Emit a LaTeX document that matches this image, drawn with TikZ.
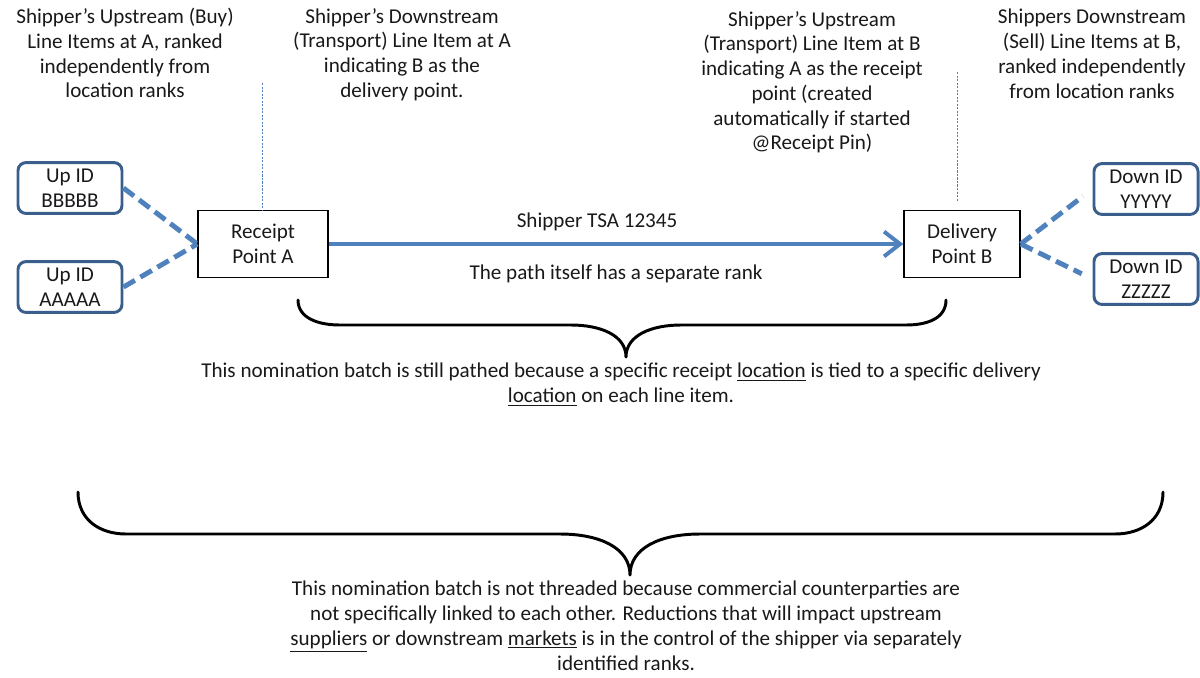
\documentclass[tikz,border=0pt]{standalone}
\usepackage{fontspec}
\setmainfont{Carlito}
\usepackage{tikz}
\usetikzlibrary{arrows.meta}
\definecolor{linkblue}{RGB}{79,129,189}
\definecolor{boxblue}{RGB}{58,95,140}
\definecolor{inktext}{RGB}{25,25,25}
\tikzstyle{idbox} = [rectangle, rounded corners=0.2cm, minimum width=2.6cm, minimum height=1.27cm, align=center, inner sep=1pt, draw=boxblue, line width=2.1pt]
\tikzstyle{pointbox} = [rectangle, minimum height=1.68cm, align=center, draw=black, line width=1pt]
\tikzstyle{note} = [align=center, inner sep=0pt, anchor=north]
\tikzstyle{dashlink} = [linkblue, line width=3.5pt, dash pattern=on 0.33cm off 0.16cm]
\tikzstyle{arrow} = [linkblue, line width=2.8pt, -{Straight Barb[length=0.4cm, width=0.62cm]}]
\tikzstyle{tickline} = [linkblue, line width=0.7pt, dash pattern=on 1.5pt off 1pt]
\tikzstyle{bracepath} = [line width=2.1pt, line cap=round, line join=round]

\begin{document}
\begin{tikzpicture}[x=0.025cm, y=-0.025cm, font=\fontsize{15}{17.6}\selectfont, every node/.append style={text=inktext}]
    \useasboundingbox (0,0) rectangle (1200,677);

    % line items and points
    \node (upB) [idbox] at (70,188) {Up ID\\BBBBB};
    \node (upA) [idbox] at (70,287) {Up ID\\AAAAA};
    \node (recA) [pointbox, minimum width=3.25cm] at (263,244) {Receipt\\Point A};
    \node (delB) [pointbox, minimum width=2.9cm] at (962,244) {Delivery\\Point B};
    \node (downY) [idbox] at (1146,189) {Down ID\\YYYYY};
    \node (downZ) [idbox] at (1146,279) {Down ID\\ZZZZZ};

    % notes on top
    \node (noteUpA) [note] at (125,8) {Shipper’s Upstream (Buy)\\Line Items at A, ranked\\independently  from\\location ranks};
    \node (noteDownA) [note] at (402,8) {Shipper’s Downstream\\(Transport) Line Item at A\\indicating B as the\\delivery point.};
    \node (noteUpB) [note] at (812,11) {Shipper’s Upstream\\(Transport) Line Item at B\\indicating A as the receipt\\point (created\\automatically if started\\@Receipt Pin)};
    \node (noteDownB) [note] at (1092,9) {Shippers Downstream\\(Sell) Line Items at B,\\ranked independently\\from location ranks};

    \coordinate (tickA) at (262,83);
    \coordinate (tickB) at (957,72);
    \draw [tickline] (tickA) -- (tickA |- recA.north);
    \draw [tickline] (tickB) -- ([yshift=0.2cm]tickB |- delB.north);

    \draw [dashlink] (upB.east) -- (recA.west);
    \draw [dashlink] (upA.east) -- (recA.west);
    \draw [dashlink, shorten >=0.3cm] (delB.east) -- (downY.west);
    \draw [dashlink, shorten >=0.3cm] (delB.east) -- (downZ.west);

    \draw [arrow] (recA) -- node[above=0.27cm, pos=0.467, inner sep=0pt] (tsa) {Shipper TSA 12345} node[below=0.48cm, inner sep=0pt] (pathrank) {The path itself has a separate rank} (delB);

    % braces
    \draw [bracepath] (298,300) .. controls (298,318) and (318,325) .. (340,325) -- (571,325)
        .. controls (600,325) and (626,335) .. (626,357) .. controls (626,335) and (652,325) .. (681,325)
        -- (906,325) .. controls (928,325) and (946,318) .. (946,300);
    \draw [bracepath] (78,492) .. controls (78,520) and (100,534) .. (126,534) -- (560,534)
        .. controls (600,534) and (630,548) .. (630,575) .. controls (630,548) and (660,534) .. (700,534)
        -- (1115,534) .. controls (1141,534) and (1163,520) .. (1163,492);

    \node (pathedNote) [note] at (621,363) {This nomination batch is still pathed because a specific receipt \underline{location} is tied to a specific delivery\\\underline{location} on each line item.};
    \node (threadNote) [note] at (626,581) {This nomination batch is not threaded because commercial counterparties are\\not specifically linked to each other.  Reductions that will impact upstream\\\underline{suppliers} or downstream \underline{markets} is in the control of the shipper via separately\\identified ranks.};
\end{tikzpicture}
\end{document}
